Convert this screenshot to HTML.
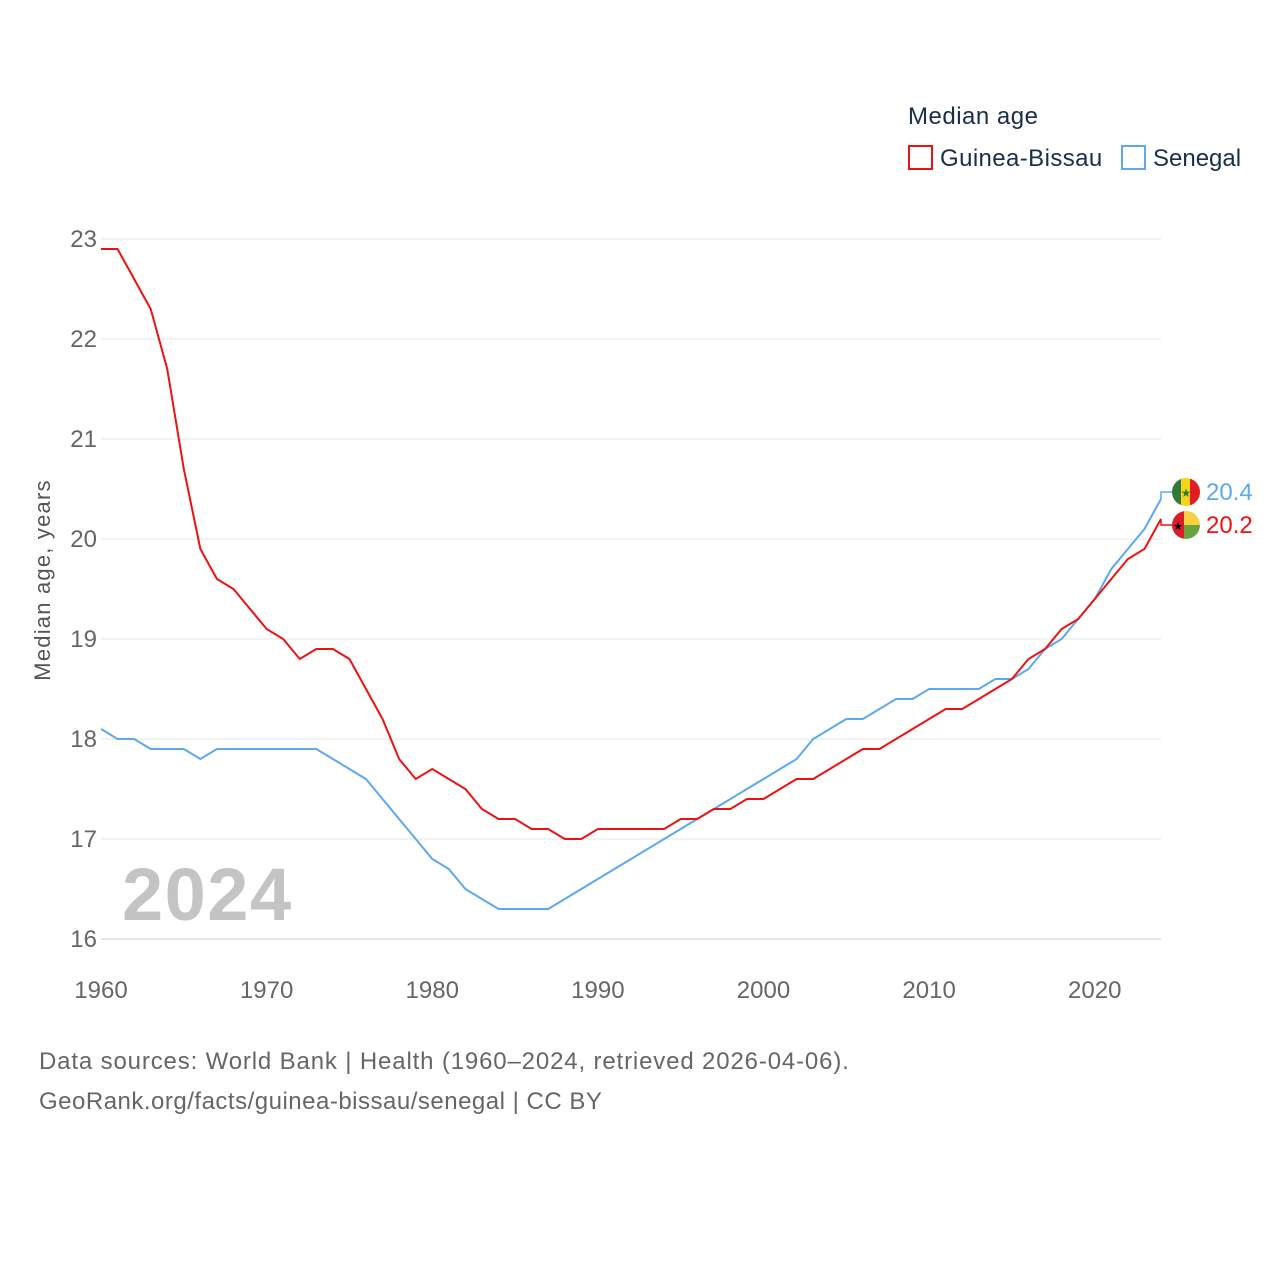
<!DOCTYPE html>
<html><head><meta charset="utf-8"><style>
body{margin:0;background:#fff;font-family:"Liberation Sans",sans-serif}
</style></head><body>
<svg id="chart" width="1280" height="1280" xmlns="http://www.w3.org/2000/svg" font-family="Liberation Sans, sans-serif">
<text x="908" y="124" font-size="24" fill="#1a2e4a" letter-spacing="0.5">Median age</text>
<g><rect x="909" y="146" width="23" height="23" fill="none" stroke="#ee1111" stroke-width="2"/><text x="940" y="166" font-size="24" fill="#1a2e4a" letter-spacing="0.4">Guinea-Bissau</text></g>
<g><rect x="1122" y="146" width="23" height="23" fill="none" stroke="#5da8ee" stroke-width="2"/><text x="1153" y="166" font-size="24" fill="#1a2e4a">Senegal</text></g>
<g id="grid"></g>
<g id="yticks"></g>
<g id="xticks"></g>
<text transform="translate(50,580) rotate(-90)" text-anchor="middle" font-size="22" fill="#555" letter-spacing="1.2">Median age, years</text>
<text x="122" y="920" font-size="74" font-weight="bold" fill="#c4c4c4" letter-spacing="1.5">2024</text>
<g id="lines"></g>
<g id="ends"></g>
<text x="39" y="1069" font-size="24" fill="#666" letter-spacing="0.85">Data sources: World Bank | Health (1960–2024, retrieved 2026-04-06).</text>
<text x="39" y="1109" font-size="24" fill="#666" letter-spacing="0.5">GeoRank.org/facts/guinea-bissau/senegal | CC BY</text>
</svg>
<script>
const years=[];for(let y=1960;y<=2024;y++)years.push(y);
const guineaBissau=[22.9,22.9,22.6,22.3,21.7,20.7,19.9,19.6,19.5,19.3,19.1,19.0,18.8,18.9,18.9,18.8,18.5,18.2,17.8,17.6,17.7,17.6,17.5,17.3,17.2,17.2,17.1,17.1,17.0,17.0,17.1,17.1,17.1,17.1,17.1,17.2,17.2,17.3,17.3,17.4,17.4,17.5,17.6,17.6,17.7,17.8,17.9,17.9,18.0,18.1,18.2,18.3,18.3,18.4,18.5,18.6,18.8,18.9,19.1,19.2,19.4,19.6,19.8,19.9,20.2];
const senegal=[18.1,18.0,18.0,17.9,17.9,17.9,17.8,17.9,17.9,17.9,17.9,17.9,17.9,17.9,17.8,17.7,17.6,17.4,17.2,17.0,16.8,16.7,16.5,16.4,16.3,16.3,16.3,16.3,16.4,16.5,16.6,16.7,16.8,16.9,17.0,17.1,17.2,17.3,17.4,17.5,17.6,17.7,17.8,18.0,18.1,18.2,18.2,18.3,18.4,18.4,18.5,18.5,18.5,18.5,18.6,18.6,18.7,18.9,19.0,19.2,19.4,19.7,19.9,20.1,20.4];
const yTicks=[16,17,18,19,20,21,22,23];
const xTicks=[1960,1970,1980,1990,2000,2010,2020];
const NS="http://www.w3.org/2000/svg";
const X=y=>101+(y-1960)*(1060/64);
const Y=v=>939-(v-16)*100;
function mk(t,a,p){const e=document.createElementNS(NS,t);for(const k in a)e.setAttribute(k,a[k]);p.appendChild(e);return e;}
const grid=document.getElementById('grid'),yt=document.getElementById('yticks'),xt=document.getElementById('xticks');
yTicks.forEach(v=>{
 const l=mk('line',{x1:101,x2:1161,y1:Y(v),y2:Y(v),stroke:v===16?'#ccc':'#e6e6e6'},grid);
 
 
 const t=mk('text',{x:97,y:Y(v)+8,'text-anchor':'end','font-size':24,fill:'#666'},yt);t.textContent=v;
 
 
});
xTicks.forEach(v=>{
 const t=mk('text',{x:X(v),y:998,'text-anchor':'middle','font-size':24,fill:'#666'},xt);t.textContent=v;
 
 
});
const lines=document.getElementById('lines');
function line(d,c,n){const p=mk('polyline',{points:d.map((v,i)=>X(years[i])+','+Y(v)).join(' '),fill:'none',stroke:c,'stroke-width':2},lines);
 
 }
line(senegal,'#5da8ee','senegal-line');
line(guineaBissau,'#ee1111','guinea-bissau-line');
const ends=document.getElementById('ends');
const sv=senegal[senegal.length-1],gv=guineaBissau[guineaBissau.length-1];
const defs=mk('defs',{},ends);
// Senegal flag
let g=mk('g',{},ends);


let sy=Y(sv)-7;
mk('path',{d:`M1161 ${Y(sv)} L1161 ${sy} L1172 ${sy}`,fill:'none',stroke:'#5da8ee','stroke-width':1.5},g);
mk('circle',{cx:1186,cy:sy,r:14},mk('clipPath',{id:'c1'},defs));
mk('rect',{x:1172,y:sy-14,width:10,height:28,fill:'#2f7a3a','clip-path':'url(#c1)'},g);
mk('rect',{x:1181,y:sy-14,width:10,height:28,fill:'#f7d417','clip-path':'url(#c1)'},g);
mk('rect',{x:1190,y:sy-14,width:10,height:28,fill:'#e31b23','clip-path':'url(#c1)'},g);
mk('text',{x:1186,y:sy+5,'text-anchor':'middle','font-size':12,fill:'#2f7a3a'},g).textContent='★';
let t=mk('text',{x:1206,y:sy+8,'font-size':24,fill:'#5da8ee'},g);t.textContent=sv.toFixed(1);
// Guinea-Bissau flag
g=mk('g',{},ends);


let gy=Y(gv)+6;
mk('path',{d:`M1161 ${Y(gv)} L1161 ${gy} L1172 ${gy}`,fill:'none',stroke:'#ee1111','stroke-width':1.5},g);
mk('circle',{cx:1186,cy:gy,r:14},mk('clipPath',{id:'c2'},defs));
mk('rect',{x:1172,y:gy-14,width:12,height:28,fill:'#d81e2a','clip-path':'url(#c2)'},g);
mk('rect',{x:1184,y:gy-14,width:16,height:14,fill:'#f9d03f','clip-path':'url(#c2)'},g);
mk('rect',{x:1184,y:gy,width:16,height:14,fill:'#6aa23c','clip-path':'url(#c2)'},g);
mk('text',{x:1178,y:gy+5,'text-anchor':'middle','font-size':11,fill:'#000'},g).textContent='★';
t=mk('text',{x:1206,y:gy+8,'font-size':24,fill:'#ee1111'},g);t.textContent=gv.toFixed(1);
</script>
</body></html>
